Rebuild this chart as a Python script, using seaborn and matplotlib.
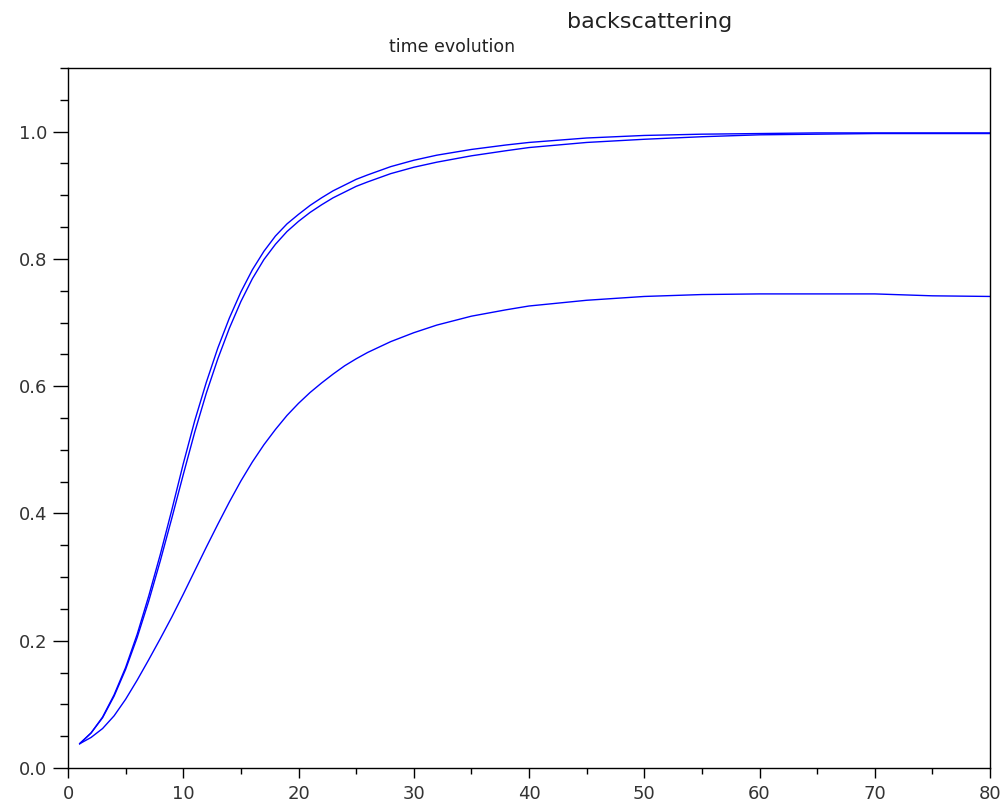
import numpy as np
import pandas as pd
import matplotlib
matplotlib.use('Agg')
import matplotlib.pyplot as plt
import seaborn as sns
from matplotlib.ticker import MultipleLocator

# time steps
t = [1, 2, 3, 4, 5, 6, 7, 8, 9, 10, 11, 12, 13, 14, 15, 16, 17, 18, 19, 20,
     21, 22, 23, 24, 25, 26, 28, 30, 32, 35, 38, 40, 45, 50, 55, 60, 65, 70, 75, 80]

# backscattering curves
curve_a = [0.038, 0.055, 0.080, 0.115, 0.158, 0.210, 0.270, 0.335, 0.405, 0.478,
           0.546, 0.606, 0.660, 0.707, 0.748, 0.783, 0.812, 0.836, 0.855, 0.870,
           0.884, 0.896, 0.907, 0.916, 0.925, 0.932, 0.945, 0.955, 0.963, 0.972,
           0.979, 0.983, 0.990, 0.994, 0.996, 0.997, 0.998, 0.998, 0.998, 0.998]
curve_b = [0.038, 0.055, 0.079, 0.113, 0.155, 0.205, 0.262, 0.325, 0.392, 0.461,
           0.528, 0.589, 0.643, 0.691, 0.733, 0.769, 0.799, 0.823, 0.843, 0.859,
           0.873, 0.885, 0.896, 0.905, 0.914, 0.921, 0.934, 0.944, 0.952, 0.962,
           0.970, 0.975, 0.983, 0.988, 0.992, 0.995, 0.996, 0.997, 0.997, 0.997]
curve_c = [0.038, 0.048, 0.062, 0.082, 0.108, 0.138, 0.170, 0.203, 0.237, 0.273,
           0.310, 0.347, 0.383, 0.418, 0.451, 0.481, 0.508, 0.532, 0.554, 0.573,
           0.590, 0.605, 0.619, 0.632, 0.643, 0.653, 0.670, 0.684, 0.696, 0.710,
           0.720, 0.726, 0.735, 0.741, 0.744, 0.745, 0.745, 0.745, 0.742, 0.741]

n = len(t)
df = pd.DataFrame({
    't': t * 3,
    'value': curve_a + curve_b + curve_c,
    'curve': ['a'] * n + ['b'] * n + ['c'] * n,
})

sns.set_theme(style='white')
plt.rcParams['font.family'] = ['DejaVu Sans']

fig = plt.figure(figsize=(10.05, 8.06), dpi=100)
ax = fig.add_axes([68 / 1005, 38 / 806, 922 / 1005, 700 / 806])

sns.lineplot(data=df, x='t', y='value', hue='curve', palette=['#0000ff'] * 3,
             estimator=None, sort=False, legend=False, lw=1.0, ax=ax)

ax.set_xlim(0, 80)
ax.set_ylim(0, 1.1)
ax.set_xlabel('')
ax.set_ylabel('')

ax.xaxis.set_major_locator(MultipleLocator(10))
ax.xaxis.set_minor_locator(MultipleLocator(5))
ax.yaxis.set_major_locator(MultipleLocator(0.2))
ax.yaxis.set_minor_locator(MultipleLocator(0.05))
ax.yaxis.set_major_formatter('{x:.1f}')

for s in ax.spines.values():
    s.set_visible(True)
    s.set_color('black')
    s.set_linewidth(1.0)

ax.tick_params(axis='x', which='major', direction='out', length=7.5, width=1.0,
               color='black', labelsize=13, labelcolor='#333333', pad=5,
               bottom=True, top=False)
ax.tick_params(axis='x', which='minor', direction='out', length=4.5, width=1.0,
               color='black', bottom=True, top=False)
ax.tick_params(axis='y', which='major', direction='out', length=11, width=1.0,
               color='black', labelsize=13, labelcolor='#333333', pad=4,
               left=True, right=False)
ax.tick_params(axis='y', which='minor', direction='out', length=6, width=1.0,
               color='black', left=True, right=False)

fig.text(650 / 1005, 1 - 28 / 806, 'backscattering', ha='center', va='baseline',
         fontsize=16, color='#222222')
fig.text(452 / 1005, 1 - 52 / 806, 'time evolution', ha='center', va='baseline',
         fontsize=12.5, color='#222222')

fig.savefig('out.png', dpi=100, facecolor='white')
